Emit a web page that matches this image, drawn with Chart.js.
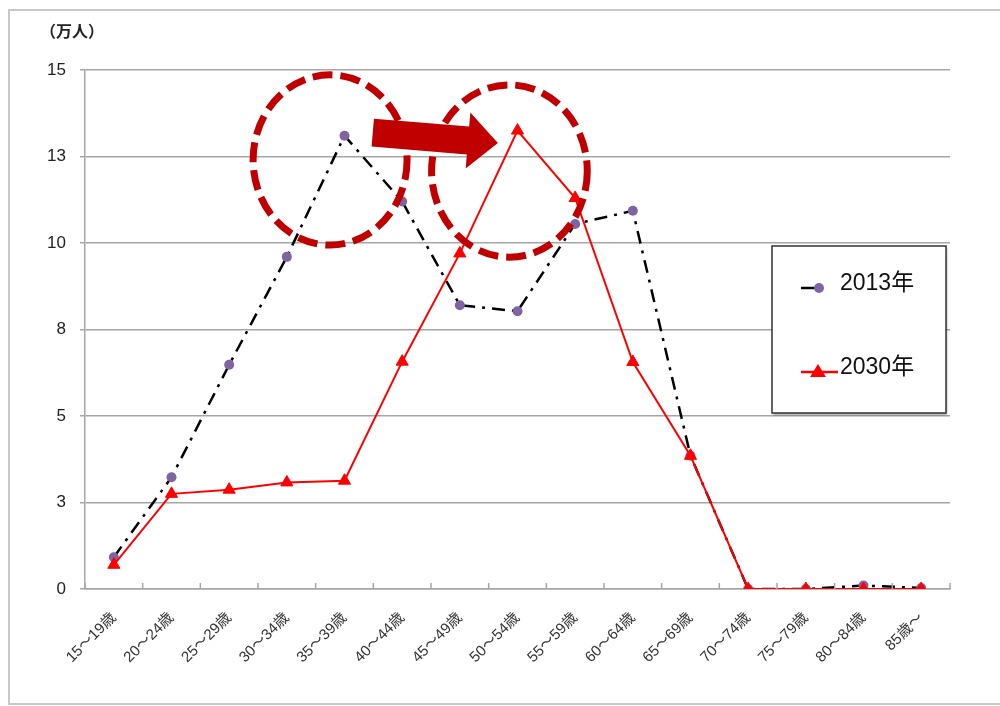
<!DOCTYPE html>
<html>
<head>
<meta charset="utf-8">
<script src="https://cdn.jsdelivr.net/npm/chart.js@4/dist/chart.umd.min.js"></script>
<style>
  body { margin: 0; background: #fff; }
  #wrap { position: relative; width: 1000px; height: 706px; }
</style>
</head>
<body>
<div id="wrap"><canvas id="chart" width="1000" height="706"></canvas></div>
<script>
const ageGroups = ['15～19歳', '20～24歳', '25～29歳', '30～34歳', '35～39歳', '40～44歳', '45～49歳',
    '50～54歳', '55～59歳', '60～64歳', '65～69歳', '70～74歳', '75～79歳', '80～84歳', '85歳～'];
const values2013 = [0.92, 3.23, 6.48, 9.6, 13.1, 11.2, 8.2, 8.03, 10.55, 10.93, 3.85, 0.0, 0.0, 0.1, 0.03];
const values2030 = [0.7, 2.75, 2.87, 3.08, 3.13, 6.57, 9.7, 13.25, 11.3, 6.56, 3.85, 0.0, 0.0, 0.0, 0.0];
const yTickLabels = ['0', '3', '5', '8', '10', '13', '15'];
const seriesNames = ['2013年', '2030年'];
const unitLabel = '（万人）';

const FONT = '"Liberation Sans", "Noto Sans CJK JP", sans-serif';
const GRID = '#a6a6a6';
const MARK_RED = '#c00000';

// highlight shapes, in data units (category index / value)
const highlightRings = [
    { x: 3.75, y: 12.4, rx: 1.335, ry: 2.46 },
    { x: 6.86, y: 12.08, rx: 1.35, ry: 2.49 }
];
const shiftArrow = { from: [4.49, 13.19], to: [6.66, 12.89] };

const decorations = {
    id: 'decorations',
    beforeDraw(chart) {
        const ctx = chart.ctx;
        ctx.save();
        ctx.strokeStyle = '#c8c8c8';
        ctx.lineWidth = 2;
        ctx.beginPath();
        ctx.moveTo(1005, 10);
        ctx.lineTo(9, 10);
        ctx.lineTo(9, 704);
        ctx.lineTo(1005, 704);
        ctx.stroke();
        ctx.restore();
    },
    afterDatasetsDraw(chart) {
        const ctx = chart.ctx;
        const xs = chart.scales.x, ys = chart.scales.y;
        const area = chart.chartArea;
        const step = (area.right - area.left) / ageGroups.length;

        // short inward ticks on the category axis
        ctx.save();
        ctx.strokeStyle = GRID;
        ctx.lineWidth = 1.5;
        ctx.beginPath();
        for (let i = 0; i <= ageGroups.length; i++) {
            const px = area.left + i * step;
            ctx.moveTo(px, area.bottom);
            ctx.lineTo(px, area.bottom - 6);
        }
        ctx.stroke();

        // dashed rings
        ctx.strokeStyle = MARK_RED;
        ctx.lineWidth = 7;
        ctx.setLineDash([20, 8]);
        highlightRings.forEach(r => {
            const cx = xs.getPixelForValue(r.x);
            const cy = ys.getPixelForValue(r.y);
            const rx = r.rx * step;
            const ry = ys.getPixelForValue(0) - ys.getPixelForValue(r.ry);
            ctx.beginPath();
            ctx.ellipse(cx, cy, rx, ry, 0, 0, Math.PI * 2);
            ctx.stroke();
        });
        ctx.setLineDash([]);

        // arrow
        const x0 = xs.getPixelForValue(shiftArrow.from[0]), y0 = ys.getPixelForValue(shiftArrow.from[1]);
        const x1 = xs.getPixelForValue(shiftArrow.to[0]), y1 = ys.getPixelForValue(shiftArrow.to[1]);
        const len = Math.hypot(x1 - x0, y1 - y0);
        const ang = Math.atan2(y1 - y0, x1 - x0);
        const head = 30, bodyH = 14, headH = 28;
        ctx.translate(x0, y0);
        ctx.rotate(ang);
        ctx.fillStyle = MARK_RED;
        ctx.beginPath();
        ctx.moveTo(0, -bodyH);
        ctx.lineTo(len - head, -bodyH);
        ctx.lineTo(len - head, -headH);
        ctx.lineTo(len, 0);
        ctx.lineTo(len - head, headH);
        ctx.lineTo(len - head, bodyH);
        ctx.lineTo(0, bodyH);
        ctx.closePath();
        ctx.fill();
        ctx.restore();
    },
    afterDraw(chart) {
        const ctx = chart.ctx;
        ctx.save();
        // unit label
        ctx.fillStyle = '#222';
        ctx.font = 'bold 16px ' + FONT;
        ctx.textBaseline = 'middle';
        ctx.fillText(unitLabel, 40, 33);

        // legend box
        ctx.fillStyle = '#fff';
        ctx.shadowColor = 'rgba(0,0,0,0.35)';
        ctx.shadowOffsetX = 1;
        ctx.shadowOffsetY = 2;
        ctx.shadowBlur = 2;
        ctx.fillRect(772, 246, 174, 167);
        ctx.shadowColor = 'transparent';
        ctx.strokeStyle = '#333';
        ctx.lineWidth = 1.5;
        ctx.strokeRect(772, 246, 174, 167);

        // 2013 sample
        ctx.strokeStyle = '#000';
        ctx.lineWidth = 2.5;
        ctx.beginPath();
        ctx.moveTo(801, 288);
        ctx.lineTo(822, 288);
        ctx.stroke();
        ctx.fillStyle = '#8064a2';
        ctx.beginPath();
        ctx.arc(819, 288, 5, 0, Math.PI * 2);
        ctx.fill();

        // 2030 sample
        ctx.strokeStyle = '#ff0000';
        ctx.lineWidth = 2.5;
        ctx.beginPath();
        ctx.moveTo(801, 372);
        ctx.lineTo(838, 372);
        ctx.stroke();
        ctx.fillStyle = '#ff0000';
        ctx.beginPath();
        ctx.moveTo(818, 364);
        ctx.lineTo(826, 377);
        ctx.lineTo(810, 377);
        ctx.closePath();
        ctx.fill();

        ctx.fillStyle = '#111';
        ctx.font = '23px ' + FONT;
        ctx.textBaseline = 'middle';
        ctx.fillText(seriesNames[0], 840, 284);
        ctx.fillText(seriesNames[1], 840, 368);
        ctx.restore();
    }
};

new Chart(document.getElementById('chart'), {
    type: 'line',
    data: {
        labels: ageGroups,
        datasets: [{
            label: seriesNames[0],
            data: values2013,
            borderColor: '#000',
            borderWidth: 2.5,
            borderDash: [13, 7, 3, 7],
            pointStyle: 'circle',
            pointRadius: 5,
            pointBackgroundColor: '#8064a2',
            pointBorderColor: '#8064a2',
            pointBorderWidth: 0,
            tension: 0,
            order: 2
        }, {
            label: seriesNames[1],
            data: values2030,
            borderColor: '#ff0000',
            borderWidth: 2,
            pointStyle: 'triangle',
            pointRadius: 7,
            pointBackgroundColor: '#ff0000',
            pointBorderColor: '#ff0000',
            pointBorderWidth: 1,
            tension: 0,
            order: 1
        }]
    },
    options: {
        responsive: false,
        animation: false,
        devicePixelRatio: 1,
        layout: { padding: { left: 0, right: 50, top: 70, bottom: 0 } },
        plugins: {
            legend: { display: false },
            tooltip: { enabled: false }
        },
        scales: {
            x: {
                offset: true,
                grid: { display: false },
                border: { display: true, color: GRID, width: 1.5 },
                ticks: {
                    minRotation: 45,
                    maxRotation: 45,
                    padding: 12,
                    color: '#333',
                    font: { family: FONT, size: 15 }
                },
                afterFit(scale) { scale.height = 117; }
            },
            y: {
                min: 0,
                max: 15,
                grid: { color: GRID, lineWidth: 1.5, tickLength: 5 },
                border: { display: true, color: GRID, width: 1.5 },
                ticks: {
                    stepSize: 2.5,
                    padding: 14,
                    color: '#222',
                    font: { family: FONT, size: 17 },
                    callback: (v, i) => yTickLabels[i]
                },
                afterFit(scale) { scale.width = 85; }
            }
        }
    },
    plugins: [decorations]
});
</script>
</body>
</html>
